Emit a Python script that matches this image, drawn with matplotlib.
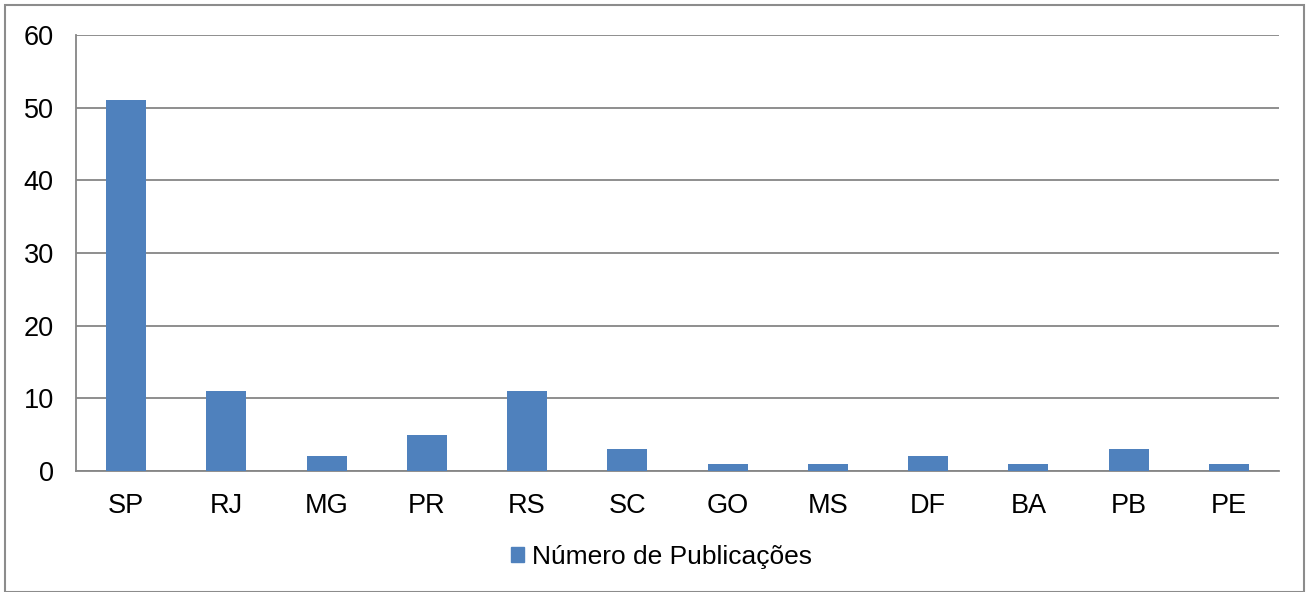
import matplotlib
matplotlib.use("Agg")
import matplotlib.pyplot as plt
from matplotlib.patches import Rectangle, Patch

categories = ["SP", "RJ", "MG", "PR", "RS", "SC", "GO", "MS", "DF", "BA", "PB", "PE"]
values = [51, 11, 2, 5, 11, 3, 1, 1, 2, 1, 3, 1]
series_name = "Número de Publicações"
yticks = [0, 10, 20, 30, 40, 50, 60]

plt.rcParams['font.family'] = ['Liberation Sans', 'DejaVu Sans']

W, H = 1309, 592
fig = plt.figure(figsize=(W/100, H/100), dpi=100)
ax = fig.add_axes([76/W, 1-471/H, (1279-76)/W, (471-35)/H])

bar_color = "#4F81BD"
grid_color = "#868686"
x = list(range(len(categories)))
ax.bar(x, values, width=0.4, color=bar_color, zorder=3)
ax.set_xlim(-0.5, len(categories)-0.5)
ax.set_ylim(0, 60)
ax.set_yticks(yticks)
ax.set_xticks(x)
ax.set_xticklabels(categories)
ax.tick_params(axis='both', length=0, labelsize=19.5, colors='black')
ax.tick_params(axis='x', pad=16)
ax.tick_params(axis='y', pad=16)
ax.yaxis.grid(True, color=grid_color, linewidth=1.3, zorder=0)
ax.set_axisbelow(True)
for s in ['top', 'right']:
    ax.spines[s].set_visible(False)
for s in ['left', 'bottom']:
    ax.spines[s].set_color(grid_color)
    ax.spines[s].set_linewidth(1.3)

fig.legend(handles=[Patch(color=bar_color, label=series_name)],
           loc='center', bbox_to_anchor=(661.5/W, 1-557/H), frameon=False,
           fontsize=19, handlelength=0.5, handleheight=0.5, handletextpad=0.3)

fig.patches.append(Rectangle((5/W, 0), (1304-5)/W, 1-5/H, transform=fig.transFigure,
                             fill=False, edgecolor="#8c8c8c", linewidth=1.5))

fig.savefig("out.png", dpi=100)
